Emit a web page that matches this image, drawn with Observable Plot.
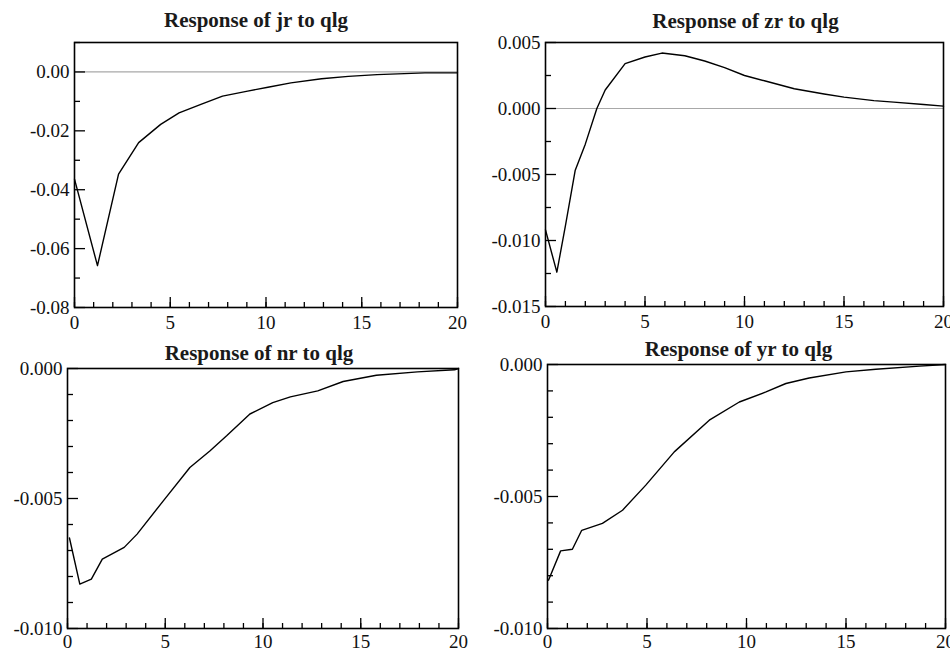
<!DOCTYPE html>
<html><head><meta charset="utf-8">
<script src="https://cdn.jsdelivr.net/npm/d3@7"></script>
<script src="https://cdn.jsdelivr.net/npm/@observablehq/plot@0.6"></script>
<style>
body{margin:0;background:#fff}
#root{position:relative;width:950px;height:652px;overflow:hidden;background:#fff}
.p{position:absolute}
.p svg{overflow:visible}
</style>
</head><body><div id="root"></div>
<script>
// ---- data ----
const jrT = [0, 1.2, 2.3, 3.35, 4.5, 5.46, 6.6, 7.73, 9.04, 10.1, 11.3, 12.9, 14.3, 15.8, 18.3, 20];
const jrV = [-0.0364, -0.0658, -0.0347, -0.024, -0.0178, -0.0139, -0.011, -0.0082, -0.0065, -0.0052, -0.0037, -0.0023, -0.0015, -0.0009, -0.0003, -0.0003];

const zrT = [0, 0.57, 1.0, 1.49, 2.0, 2.58, 3.0, 4.0, 5.0, 5.85, 7.0, 8.0, 9.0, 10.0, 11.0, 12.5, 14.0, 15.0, 16.5, 17.5, 19.0, 20.0];
const zrV = [-0.0092, -0.0124, -0.0089, -0.0047, -0.0027, 0.0, 0.0014, 0.0034, 0.0039, 0.0042, 0.0040, 0.0036, 0.0031, 0.0025, 0.0021, 0.0015, 0.0011, 0.00086, 0.0006, 0.00048, 0.0003, 0.00018];

const nrT = [0.1, 0.63, 1.22, 1.78, 2.9, 3.56, 4.9, 6.26, 7.28, 8.14, 9.33, 10.5, 11.4, 12.8, 14.1, 15.8, 17.9, 19.8, 20];
const nrV = [-0.00652, -0.00829, -0.0081, -0.00733, -0.00688, -0.00637, -0.00509, -0.00381, -0.00317, -0.00259, -0.00175, -0.00131, -0.00109, -0.00086, -0.0005, -0.00026, -0.00013, -0.00005, 0];

const yrT = [0.05, 0.66, 1.25, 1.72, 2.76, 3.77, 4.94, 6.37, 8.13, 9.64, 10.98, 11.98, 13.15, 15, 16.5, 18.7, 20];
const yrV = [-0.00817, -0.00706, -0.007, -0.00628, -0.00602, -0.00552, -0.00457, -0.00331, -0.00211, -0.00142, -0.00104, -0.00072, -0.00051, -0.00028, -0.00018, -0.00006, 0];

// ---- tick labels ----
const xMajor = [0, 5, 10, 15, 20];
const xMinor = d3.range(0, 21, 1);
const jrMajor = [0, -0.02, -0.04, -0.06, -0.08];
const jrMinor = [0.01, -0.01, -0.03, -0.05, -0.07];
const zrMajor = [0.005, 0, -0.005, -0.010, -0.015];
const zrMinor = [0.0025, -0.0025, -0.0075, -0.0125];
const nMajor = [0, -0.005, -0.010];
const nMinor = [-0.001, -0.002, -0.003, -0.004, -0.006, -0.007, -0.008, -0.009];

const titles = ["Response of jr to qlg", "Response of zr to qlg", "Response of nr to qlg", "Response of yr to qlg"];

const FONT = "'Liberation Serif', 'Times New Roman', serif";

function panel(cfg) {
  const {left, top, width, height, ml, mr, mt, mb, t, v, domain, yMajor, yMinor, digits, zero, title, tdx, tdy, xPad} = cfg;
  const plotW = width - ml - mr, plotH = height - mt - mb;
  const data = t.map((x, i) => ({x, y: v[i]}));
  const marks = [];
  if (zero) marks.push(Plot.ruleY([0], {stroke: "#a8a8a8", strokeWidth: 1.2}));
  marks.push(Plot.line(data, {x: "x", y: "y", stroke: "#000", strokeWidth: 1.4}));
  marks.push(Plot.tickX(xMinor, {x: d => d, insetTop: plotH - 5, stroke: "#000", strokeWidth: 1.3}));
  marks.push(Plot.tickX(xMajor, {x: d => d, insetTop: plotH - 10, stroke: "#000", strokeWidth: 1.3}));
  marks.push(Plot.tickY(yMinor, {y: d => d, insetRight: plotW - 6, stroke: "#000", strokeWidth: 1.3}));
  marks.push(Plot.tickY(yMajor, {y: d => d, insetRight: plotW - 11, stroke: "#000", strokeWidth: 1.3}));
  marks.push(Plot.axisX(xMajor, {tickSize: 0, tickPadding: xPad, tickFormat: d => String(d), label: null, fontSize: 19, fill: "#111"}));
  marks.push(Plot.axisY(yMajor, {tickSize: 0, tickPadding: 5, tickFormat: d => d.toFixed(digits), label: null, fontSize: 19, fill: "#111"}));
  marks.push(Plot.frame({stroke: "#000", strokeWidth: 1.6}));
  marks.push(Plot.text([title], {text: d => d, frameAnchor: "top", lineAnchor: "bottom", dx: tdx, dy: tdy, fontSize: 21, fontWeight: "bold", fill: "#1a1a1a"}));
  const chart = Plot.plot({
    width, height,
    marginLeft: ml, marginRight: mr, marginTop: mt, marginBottom: mb,
    x: {domain: [0, 20]},
    y: {domain},
    style: {fontFamily: FONT, fontSize: "19px", color: "#111", background: "transparent"},
    marks
  });
  const div = document.createElement("div");
  div.className = "p";
  div.style.left = left + "px";
  div.style.top = top + "px";
  div.appendChild(chart);
  document.getElementById("root").appendChild(div);
}

panel({left: 0, top: 0, width: 475, height: 330, ml: 74, mr: 18, mt: 42, mb: 23,
  t: jrT, v: jrV, domain: [-0.08, 0.01], yMajor: jrMajor, yMinor: jrMinor, digits: 2, zero: true,
  title: titles[0], tdx: -10, tdy: -16, xPad: 8});
panel({left: 475, top: 0, width: 475, height: 330, ml: 70, mr: 7, mt: 42, mb: 24,
  t: zrT, v: zrV, domain: [-0.015, 0.005], yMajor: zrMajor, yMinor: zrMinor, digits: 3, zero: true,
  title: titles[1], tdx: 1, tdy: -15, xPad: 8});
panel({left: 0, top: 330, width: 475, height: 322, ml: 67, mr: 17, mt: 38, mb: 24,
  t: nrT, v: nrV, domain: [-0.010, 0], yMajor: nMajor, yMinor: nMinor, digits: 3, zero: false,
  title: titles[2], tdx: -4, tdy: -9, xPad: 6});
panel({left: 475, top: 330, width: 475, height: 322, ml: 72, mr: 5, mt: 34, mb: 24,
  t: yrT, v: yrV, domain: [-0.010, 0], yMajor: nMajor, yMinor: nMinor, digits: 3, zero: false,
  title: titles[3], tdx: -8, tdy: -9, xPad: 6});
</script></body></html>
